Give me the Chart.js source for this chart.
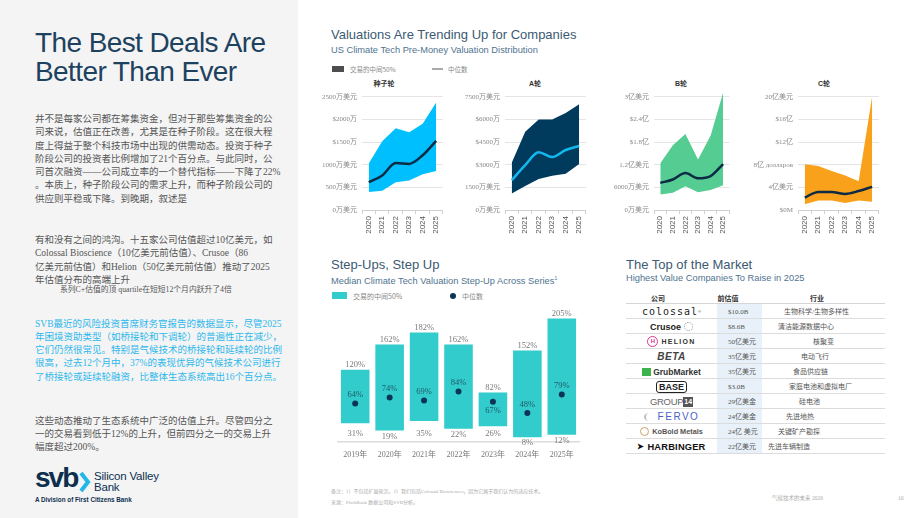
<!DOCTYPE html>
<html lang="zh-CN">
<head>
<meta charset="UTF-8">
<title>气候技术的未来 2026 - 估值</title>
<script src="https://cdn.jsdelivr.net/npm/chart.js@4"></script>
<style>
  body { margin: 0; width: 920px; height: 518px; position: relative; overflow: hidden; background: #fff;
         font-family: "Liberation Sans", "Noto Sans CJK SC", sans-serif; }
  .t { position: absolute; white-space: nowrap; }
  #left { position: absolute; left: 0; top: 0; width: 298px; height: 518px; background: #f4f4f4; }
  .big { left: 35px; font-size: 28px; line-height: 29px; letter-spacing: -0.6px; color: #1d4260; }
  .body { left: 35px; font-family: "Liberation Serif", "Noto Sans CJK SC", serif; font-size: 9.5px; line-height: 13.3px; color: #555; }
  .h2 { font-size: 13px; line-height: 16px; color: #3c5a72; }
  .h3 { font-size: 9.3px; line-height: 12px; color: #4f7390; }
  .lg { font-size: 6.5px; line-height: 8px; color: #888; font-family: "Noto Sans CJK SC", sans-serif; }
  .mini { font-size: 7px; font-weight: bold; color: #333; width: 40px; text-align: center; line-height: 8px; }
  canvas { position: absolute; }
  .row { position: absolute; left: 626px; width: 259px; height: 14px; border-bottom: 1px solid #dcdcdc; }
  .val { position: absolute; font-family: "Liberation Serif", "Noto Sans CJK SC", serif; font-size: 7px; color: #555; line-height: 15px; top: 1px; white-space: nowrap; }
  .logo { position: absolute; left: 0; width: 91px; top: 0; height: 15px; display: flex; align-items: center; justify-content: center; white-space: nowrap; }
  .foot { font-family: "Liberation Serif", "Noto Sans CJK SC", serif; font-size: 5px; color: #aaa; line-height: 7px; }
</style>
</head>
<body>

<!-- left column -->
<div id="left"></div>
<div class="t big" style="top:28px">The Best Deals Are<br>Better Than Ever</div>

<div class="t body" style="top:113px">井不是每家公司都在筹集资金，但对于那些筹集资金的公<br>司来说，估值正在改善，尤其是在种子阶段。这在很大程<br>度上得益于整个科技市场中出现的供需动态。投资于种子<br>阶段公司的投资者比例增加了21个百分点。与此同时，公<br>司首次融资——公司成立率的一个替代指标——下降了22%<br>。本质上，种子阶段公司的需求上升，而种子阶段公司的<br>供应则平稳或下降。到晚期，叙述是</div>

<div class="t body" style="top:234px">有和没有之间的鸿沟。十五家公司估值超过10亿美元，如<br>Colossal Bioscience（10亿美元前估值）、Crusoe（86<br>亿美元前估值）和Helion（50亿美元前估值）推动了2025<br>年估值分布的高端上升</div>
<div class="t body" style="left:60px;top:285px;font-size:7.8px;line-height:9px">系列C+估值的顶 quartile在短短12个月内跃升了4倍</div>

<div class="t body" style="top:317.5px;color:#2fb8ec">SVB最近的风险投资首席财务官报告的数据显示，尽管2025<br>年困境资助类型（如桥接轮和下调轮）的普遍性正在减少，<br>它们仍然很常见。特别是气候技术的桥接轮和延续轮的比例<br>很高，过去12个月中，37%的表现优异的气候技术公司进行<br>了桥接轮或延续轮融资，比整体生态系统高出16个百分点。</div>

<div class="t body" style="top:414.5px">这些动态推动了生态系统中广泛的估值上升。尽管四分之<br>一的交易看到低于12%的上升，但前四分之一的交易上升<br>幅度超过200%。</div>

<!-- svb logo -->
<div class="t" style="left:35px;top:462px;font-size:28px;font-weight:bold;letter-spacing:-2px;color:#0d2f4f;line-height:32px">svb</div>
<svg class="t" style="left:79px;top:471px" width="12" height="22"><polyline points="2,2 9,11 2,20" fill="none" stroke="#22b7e8" stroke-width="4"/></svg>
<div class="t" style="left:94px;top:471px;font-size:11.5px;line-height:11px;color:#0d2f4f;letter-spacing:-0.2px">Silicon Valley<br>Bank</div>
<div class="t" style="left:35px;top:496px;font-size:6.3px;font-weight:bold;color:#0d2f4f;line-height:8px">A Division of First Citizens Bank</div>

<!-- top section -->
<div class="t h2" style="left:331px;top:27px">Valuations Are Trending Up for Companies</div>
<div class="t h3" style="left:331px;top:44px">US Climate Tech Pre-Money Valuation Distribution</div>
<div class="t" style="left:332px;top:66px;width:12px;height:6px;background:#4d4d4d"></div>
<div class="t lg" style="left:350px;top:65px">交易的中间50%</div>
<div class="t" style="left:432px;top:68px;width:11px;height:2px;background:#aaa"></div>
<div class="t lg" style="left:448px;top:65px">中位数</div>

<div class="t mini" style="left:364px;top:80px">种子轮</div>
<div class="t mini" style="left:515px;top:80px">A轮</div>
<div class="t mini" style="left:661px;top:80px">B轮</div>
<div class="t mini" style="left:804px;top:80px">C轮</div>

<canvas id="cSeed" width="142" height="157" style="left:306px;top:81px"></canvas>
<canvas id="cA" width="142" height="157" style="left:449px;top:81px"></canvas>
<canvas id="cB" width="137" height="157" style="left:598px;top:81px"></canvas>
<canvas id="cC" width="142" height="157" style="left:742px;top:81px"></canvas>

<!-- step-ups -->
<div class="t h2" style="left:331px;top:257px">Step-Ups, Step Up</div>
<div class="t h3" style="left:331px;top:272px">Median Climate Tech Valuation Step-Up Across Series<sup style="font-size:5px">1</sup></div>
<div class="t" style="left:332px;top:292px;width:15px;height:6.5px;background:#33cccc"></div>
<div class="t lg" style="left:353px;top:291.5px;font-size:7px">交易的中间50%</div>
<div class="t" style="left:450px;top:293px;width:6px;height:6px;border-radius:50%;background:#0b3558"></div>
<div class="t lg" style="left:462px;top:291.5px;font-size:7px">中位数</div>
<canvas id="cStep" width="249" height="170" style="left:334px;top:300px"></canvas>

<!-- top of market table -->
<div class="t h2" style="left:626px;top:257px">The Top of the Market</div>
<div class="t h3" style="left:626px;top:272px">Highest Value Companies To Raise in 2025</div>
<div class="t" style="left:717px;top:304px;width:45px;height:150px;background:#e8f1f9"></div>
<div class="t" style="left:626px;top:303px;width:259px;height:1px;background:#d6d6d6"></div>
<div class="t mini" style="left:638px;top:295px">公司</div>
<div class="t mini" style="left:708px;top:295px">前估值</div>
<div class="t mini" style="left:797px;top:295px">行业</div>
<div id="table"></div>

<!-- footer -->
<div class="t foot" style="left:331px;top:487.5px">备注：1）不包括扩展轮次。2）我们包括Colossal Biosciences，因为它属于我们认为的适应技术。</div>
<div class="t foot" style="left:331px;top:498.5px">来源：PitchBook 数据公司和SVB分析。</div>
<div class="t foot" style="left:772px;top:494.5px;font-size:5.5px">气候技术的未来 2026</div>
<div class="t foot" style="left:898px;top:494.5px;font-size:5.5px">10</div>

<script>
// ---- data ----
const years = ['2020', '2021', '2022', '2023', '2024', '2025'];

// 种子轮 (万美元)
const seedHigh = [1030, 1520, 1810, 1720, 1910, 2380];
const seedLow = [400, 425, 615, 650, 790, 865];
const seedMedian = [615, 765, 1040, 1020, 1210, 1530];
const seedTicks = ['0万美元', '500万美元', '1000万美元', '$1500万', '$2000万', '2500万美元'];

// A轮 (万美元)
const aHigh = [3130, 5200, 6000, 6000, 6430, 7020];
const aLow = [1100, 1600, 2060, 2280, 2400, 3050];
const aMedian = [1980, 2980, 3830, 3510, 3980, 4250];
const aTicks = ['0万美元', '1500万美元', '$3000万', '$4500万', '$6000万', '7500万美元'];

// B轮 (亿美元)
const bHigh = [1.24, 1.72, 2.02, 1.34, 1.97, 3.12];
const bLow = [0.41, 0.46, 0.63, 0.47, 0.53, 0.66];
const bMedian = [0.72, 0.81, 0.98, 0.84, 0.9, 1.22];
const bTicks = ['0万美元', '6000万美元', '1.2亿美元', '$1.8亿', '$2.4亿', '3亿美元'];

// C轮 (亿美元)
const cHigh = [8.1, 7.8, 6.9, 6.1, 5.1, 20.1];
const cLow = [1.0, 1.7, 1.7, 1.25, 1.7, 1.45];
const cMedian = [2.2, 3.2, 3.2, 2.85, 3.35, 4.1];
const cTicks = ['$0M', '4亿美元', '8亿 долларов', '$12亿', '$16亿', '20亿美元'];

// step-ups (%)
const stepYears = ['2019年', '2020年', '2021年', '2022年', '2023年', '2024年', '2025年'];
const stepLow = [31, 19, 35, 22, 26, 8, 12];
const stepHigh = [120, 162, 182, 162, 82, 152, 205];
const stepMedian = [64, 74, 69, 84, 67, 48, 79];

// table
const companies = ['colossal', 'Crusoe', 'HELION', 'BETA', 'GrubMarket', 'BASE', 'GROUP14', 'FERVO', 'KoBold Metals', 'HARBINGER'];
const valuations = ['$10.0B', '$8.6B', '50亿美元', '35亿美元', '35亿美元', '$3.0B', '29亿美金', '24亿美金', '24亿 美元', '22亿美元'];
const industries = ['生物科学/生物多样性', '清洁能源数据中心', '核聚变', '电动飞行', '食品供应链', '家庭电池和虚拟电厂', '硅电池', '先进地热', '关键矿产勘探', '先进车辆制造'];

// ---- band charts ----
function bandChart(id, high, low, median, tickLabels, tickMax, fillColor, lineColor) {
  const step = tickMax / 5;
  new Chart(document.getElementById(id), {
    type: 'line',
    data: {
      labels: years,
      datasets: [
        { data: high, borderWidth: 0, borderColor: fillColor, backgroundColor: fillColor, fill: '+1', pointRadius: 0, tension: 0, order: 2 },
        { data: low, borderWidth: 0, borderColor: fillColor, backgroundColor: fillColor, fill: false, pointRadius: 0, tension: 0, order: 2 },
        { data: median, borderColor: lineColor, borderWidth: 2.5, fill: false, pointRadius: 0, cubicInterpolationMode: 'monotone', order: 0 }
      ]
    },
    options: {
      responsive: false,
      animation: false,
      layout: { padding: { top: 4.5, right: 3, left: 0, bottom: 0 } },
      plugins: { legend: { display: false }, tooltip: { enabled: false } },
      scales: {
        x: {
          offset: true,
          grid: { display: true, drawOnChartArea: false, tickLength: 4, color: '#d0d0d0', offset: true },
          border: { color: '#d0d0d0' },
          ticks: { minRotation: 90, maxRotation: 90, padding: 2, color: '#555', font: { size: 8, family: 'Liberation Sans' } },
          afterFit: s => { s.height = 28; }
        },
        y: {
          min: 0,
          max: tickMax * 1.06,
          afterBuildTicks: s => { s.ticks = tickLabels.map((_, i) => ({ value: step * i })); },
          grid: { color: '#e4e4e4', drawTicks: false },
          border: { display: false },
          ticks: { padding: 5, color: '#888', font: { size: 7, family: 'Liberation Serif, Noto Sans CJK SC' },
                   callback: (v, i) => tickLabels[i] },
          afterFit: s => { s.width = 56; }
        }
      }
    }
  });
}

bandChart('cSeed', seedHigh, seedLow, seedMedian, seedTicks, 2500, '#00bfff', '#0d2b45');
bandChart('cA', aHigh, aLow, aMedian, aTicks, 7500, '#003a5c', '#12b8ee');
bandChart('cB', bHigh, bLow, bMedian, bTicks, 3, '#55cc91', '#0d2b45');
bandChart('cC', cHigh, cLow, cMedian, cTicks, 20, '#f9a11b', '#0d2b45');

// ---- step-up chart ----
const stepLabels = {
  id: 'stepLabels',
  afterDatasetsDraw(chart) {
    const { ctx, scales: { x, y } } = chart;
    const zero = y.getPixelForValue(0);
    ctx.save();
    ctx.textAlign = 'center';
    ctx.font = '8.5px "Liberation Serif", "Noto Sans CJK SC"';
    stepYears.forEach((_, i) => {
      const px = x.getPixelForValue(i);
      const top = y.getPixelForValue(stepHigh[i]);
      const bot = y.getPixelForValue(stepLow[i]);
      const mid = y.getPixelForValue(stepMedian[i]);
      ctx.fillStyle = '#7a7a7a';
      ctx.textBaseline = 'bottom';
      ctx.fillText(stepHigh[i] + '%', px, top - 0.5);
      ctx.textBaseline = 'middle';
      ctx.fillText(stepLow[i] + '%', px, Math.max(bot + 6, zero - 8));
      ctx.fillStyle = '#1d5a66';
      const my = (mid - top < 15) ? mid + 9.3 : mid - 8.7;
      ctx.fillText(stepMedian[i] + '%', px, my);
    });
    ctx.restore();
  }
};

new Chart(document.getElementById('cStep'), {
  type: 'bar',
  data: {
    labels: stepYears,
    datasets: [
      { type: 'line', data: stepMedian, showLine: false, pointRadius: 3, pointBackgroundColor: '#0b3558', pointBorderWidth: 0, order: 0 },
      { type: 'bar', data: stepYears.map((_, i) => [stepLow[i], stepHigh[i]]), backgroundColor: '#33cccc', barPercentage: 0.83, categoryPercentage: 1, order: 1 }
    ]
  },
  options: {
    responsive: false,
    animation: false,
    layout: { padding: { top: 6.5, left: 0, right: 0, bottom: 0 } },
    plugins: { legend: { display: false }, tooltip: { enabled: false } },
    scales: {
      x: {
        grid: { display: false, drawTicks: false },
        border: { color: '#dcdcdc', width: 1.5 },
        ticks: { padding: 8, color: '#777', font: { size: 8, family: 'Liberation Serif, Noto Sans CJK SC' } },
        afterFit: s => { s.height = 28; }
      },
      y: { display: false, min: 0, max: 225 }
    }
  },
  plugins: [stepLabels]
});

// ---- table ----
const logoHtml = {
  'colossal': '<span style="font:10px \'DejaVu Sans Mono\';letter-spacing:1px;color:#222">colossal</span><span style="font-size:4px;color:#444">®</span>',
  'Crusoe': '<span style="font:bold 9px \'Liberation Sans\';color:#222">Crusoe</span><span style="display:inline-block;width:7px;height:7px;border:1.5px dotted #999;border-radius:50%;margin-left:3px"></span>',
  'HELION': '<span style="display:inline-block;width:9px;height:9px;border:1.5px solid #e0338f;border-radius:50%;font:bold 6px \'Liberation Sans\';color:#e0338f;text-align:center;line-height:9px;margin-right:3px">H</span><span style="font:bold 7px \'Liberation Sans\';letter-spacing:1.3px;color:#333">HELION</span>',
  'BETA': '<span style="font:italic 900 10px \'Liberation Sans\';letter-spacing:0.5px;color:#444">BETA</span>',
  'GrubMarket': '<span style="display:inline-block;width:9px;height:8px;background:#3cb44b;margin-right:2px"></span><span style="font:bold 8.5px \'Liberation Sans\';color:#333">GrubMarket</span>',
  'BASE': '<span style="font:bold 9px \'Liberation Sans\';color:#222;border:1.5px solid #222;border-radius:3px;padding:0 2px;line-height:10px">BASE</span>',
  'GROUP14': '<span style="font:9.5px \'Liberation Sans Narrow\',\'Liberation Sans\';color:#666;letter-spacing:-0.3px">GROUP</span><span style="font:bold 7px \'Liberation Sans\';color:#fff;background:#555;padding:0 1px;line-height:10px">14</span>',
  'FERVO': '<span style="display:inline-block;width:8px;height:8px;border-left:2px solid #bbb;border-radius:50%;margin-right:4px"></span><span style="font:10px \'Liberation Sans\';letter-spacing:1.5px;color:#4a62c9">FERVO</span>',
  'KoBold Metals': '<span style="display:inline-block;width:7px;height:7px;border:1px solid #c9a36a;border-radius:50%;margin-right:3px"></span><span style="font:bold 7.3px \'Liberation Sans\';color:#555">KoBold Metals</span>',
  'HARBINGER': '<span style="font:900 8px \'Liberation Sans\';color:#111;margin-right:3px">&#10148;</span><span style="font:900 9.3px \'Liberation Sans\';color:#111;letter-spacing:0.2px">HARBINGER</span>'
};
const industryLeft = [158, 152, 187, 175, 167, 163, 173, 160, 152, 142];

const table = document.getElementById('table');
companies.forEach((name, i) => {
  const row = document.createElement('div');
  row.className = 'row';
  row.style.top = (304 + 15 * i) + 'px';
  row.innerHTML =
    '<div class="logo">' + logoHtml[name] + '</div>' +
    '<div class="val" style="left:102px">' + valuations[i] + '</div>' +
    '<div class="val" style="left:' + industryLeft[i] + 'px">' + industries[i] + '</div>';
  table.appendChild(row);
});
</script>
</body>
</html>
